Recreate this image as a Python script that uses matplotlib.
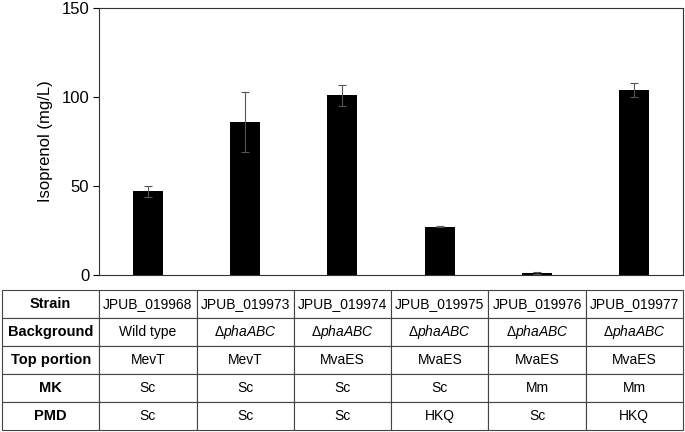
import numpy as np
import matplotlib.pyplot as plt

plt.rcParams['font.family'] = ['Liberation Sans', 'DejaVu Sans']
plt.rcParams['mathtext.fontset'] = 'custom'
plt.rcParams['mathtext.rm'] = 'Liberation Sans'
plt.rcParams['mathtext.it'] = 'Liberation Sans:italic'

# --- data ---
strains = ['JPUB_019968', 'JPUB_019973', 'JPUB_019974',
           'JPUB_019975', 'JPUB_019976', 'JPUB_019977']
isoprenol = [47, 86, 101, 27, 1.2, 104]
errors = [3, 17, 6, 0.3, 0.4, 4]

row_labels = ['Strain', 'Background', 'Top portion', 'MK', 'PMD']
dpha = r'$\Delta\mathit{phaABC}$'
background = ['Wild type', dpha, dpha, dpha, dpha, dpha]
top_portion = ['MevT', 'MevT', 'MvaES', 'MvaES', 'MvaES', 'MvaES']
mk = ['Sc', 'Sc', 'Sc', 'Sc', 'Mm', 'Mm']
pmd = ['Sc', 'Sc', 'Sc', 'HKQ', 'Sc', 'HKQ']

fig = plt.figure(figsize=(6.85, 4.32), dpi=100)

# bar chart
ax = fig.add_axes([99/685, 157/432, 584/685, 267/432])
x = np.arange(len(strains))
ax.bar(x, isoprenol, width=0.31, color='black',
       yerr=errors, ecolor='#555555', capsize=3,
       error_kw=dict(elinewidth=0.8, capthick=0.8))
ax.set_xlim(-0.5, len(strains) - 0.5)
ax.set_ylim(0, 150)
ax.set_yticks([0, 50, 100, 150])
ax.set_xticks([])
ax.tick_params(axis='y', labelsize=12, length=4, width=0.8, pad=3)
ax.set_ylabel('Isoprenol (mg/L)', fontsize=12, labelpad=6)
for s in ax.spines.values():
    s.set_linewidth(0.8)
    s.set_color('#333333')

# table below
tax = fig.add_axes([2/685, 2/432, 681/685, 140/432])
tax.axis('off')
rows = [strains, background, top_portion, mk, pmd]
cell_text = [[lab] + r for lab, r in zip(row_labels, rows)]
tbl = tax.table(cellText=cell_text, bbox=[0, 0, 1, 1], cellLoc='center')
tbl.auto_set_font_size(False)
for (r, c), cell in tbl.get_celld().items():
    cell.set_linewidth(0.8)
    cell.set_edgecolor('#444444')
    cell.get_text().set_fontsize(10)
    if c == 0:
        cell.get_text().set_fontweight('bold')
        cell.get_text().set_fontsize(10.5)

plt.savefig('out.png', dpi=100)
